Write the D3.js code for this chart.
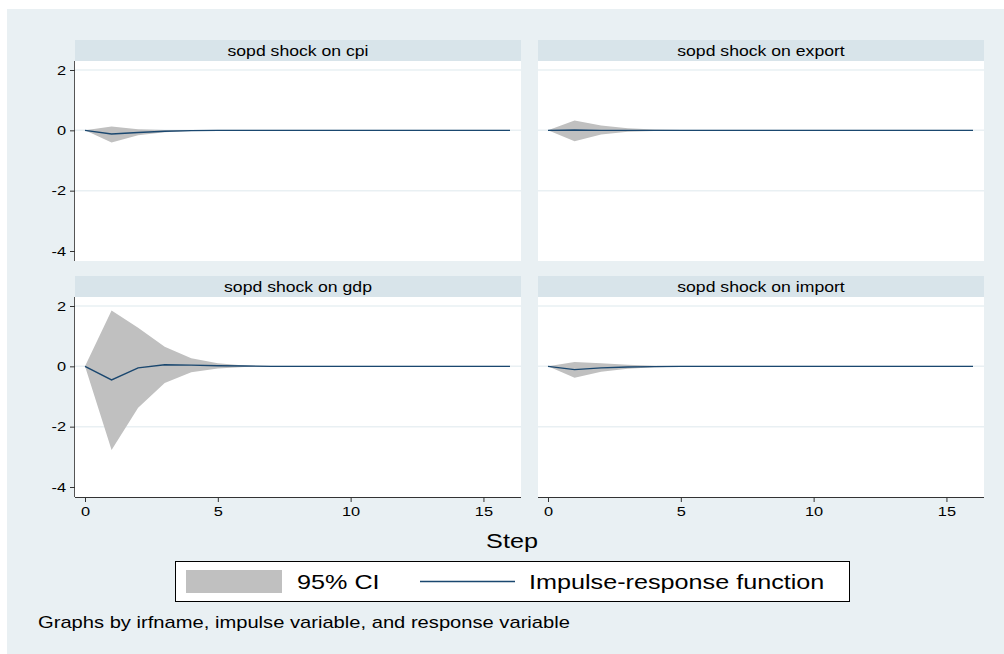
<!DOCTYPE html>
<html>
<head>
<meta charset="utf-8">
<script src="https://cdn.jsdelivr.net/npm/d3@7"></script>
<style>
  body { margin: 0; background: #fff; }
  svg { display: block; font-family: "Liberation Sans", Arial, sans-serif; }
</style>
</head>
<body>
<div id="chart"></div>
<script>
// steps 0..16
const steps = d3.range(0, 17);

const panelTitles = ["sopd shock on cpi", "sopd shock on export", "sopd shock on gdp", "sopd shock on import"];

const cpiIrf   = [0, -0.12, -0.07, -0.03, -0.01, 0, 0, 0, 0, 0, 0, 0, 0, 0, 0, 0, 0];
const cpiUpper = [0, 0.13, 0.04, 0.01, 0.005, 0, 0, 0, 0, 0, 0, 0, 0, 0, 0, 0, 0];
const cpiLower = [0, -0.40, -0.16, -0.06, -0.02, -0.01, 0, 0, 0, 0, 0, 0, 0, 0, 0, 0, 0];

const exportIrf   = [0, 0.01, 0, 0, 0, 0, 0, 0, 0, 0, 0, 0, 0, 0, 0, 0, 0];
const exportUpper = [0, 0.33, 0.16, 0.07, 0.03, 0.01, 0, 0, 0, 0, 0, 0, 0, 0, 0, 0, 0];
const exportLower = [0, -0.36, -0.14, -0.05, -0.02, -0.005, 0, 0, 0, 0, 0, 0, 0, 0, 0, 0, 0];

const gdpIrf   = [0, -0.45, -0.05, 0.05, 0.04, 0.02, 0.01, 0, 0, 0, 0, 0, 0, 0, 0, 0, 0];
const gdpUpper = [0, 1.85, 1.28, 0.65, 0.27, 0.10, 0.03, 0.01, 0, 0, 0, 0, 0, 0, 0, 0, 0];
const gdpLower = [0, -2.77, -1.37, -0.55, -0.20, -0.07, -0.02, -0.01, 0, 0, 0, 0, 0, 0, 0, 0, 0];

const importIrf   = [0, -0.11, -0.05, -0.02, -0.01, 0, 0, 0, 0, 0, 0, 0, 0, 0, 0, 0, 0];
const importUpper = [0, 0.14, 0.10, 0.05, 0.02, 0.01, 0, 0, 0, 0, 0, 0, 0, 0, 0, 0, 0];
const importLower = [0, -0.38, -0.18, -0.08, -0.03, -0.01, 0, 0, 0, 0, 0, 0, 0, 0, 0, 0, 0];

const yTicks = [2, 0, -2, -4];
const xTicks = [0, 5, 10, 15];

const panels = [
  { title: panelTitles[0], irf: cpiIrf, upper: cpiUpper, lower: cpiLower, col: 0, row: 0 },
  { title: panelTitles[1], irf: exportIrf, upper: exportUpper, lower: exportLower, col: 1, row: 0 },
  { title: panelTitles[2], irf: gdpIrf, upper: gdpUpper, lower: gdpLower, col: 0, row: 1 },
  { title: panelTitles[3], irf: importIrf, upper: importUpper, lower: importLower, col: 1, row: 1 },
];

const width = 1004;
const height = 654;
const colX = [75, 538];
const rowY = [40, 276];
const panelW = 446;
const stripH = 21;
const plotH = 200;
const stretch = 1.26; // the reference text is drawn a bit wide

const bgColor = "#e9f0f3";
const stripColor = "#d8e4ea";
const ciColor = "#c0c0c0";
const lineColor = "#1a476f";

const svg = d3.select("#chart").append("svg").attr("width", width).attr("height", height);

function wideText(parent, x, y, size, anchor, str) {
  return parent.append("text")
    .attr("transform", `translate(${x},${y}) scale(${stretch},1)`)
    .attr("text-anchor", anchor)
    .attr("font-size", size)
    .attr("fill", "#000")
    .text(str);
}

svg.append("rect").attr("x", 7).attr("y", 9).attr("width", width - 7).attr("height", height - 9)
  .attr("fill", bgColor);

panels.forEach((p) => {
  const x0 = colX[p.col];
  const top = rowY[p.row];
  const plotTop = top + stripH;
  const plotBottom = plotTop + plotH;

  const x = d3.scaleLinear().domain([0, 16]).range([x0 + 10, x0 + panelW - 11]);
  const y = d3.scaleLinear().domain([-4, 2]).range([plotBottom - 10, plotTop + 9]);

  const g = svg.append("g");

  g.append("rect").attr("x", x0).attr("y", top).attr("width", panelW).attr("height", stripH)
    .attr("fill", stripColor);
  wideText(g, x0 + panelW / 2, top + 15.5, 14, "middle", p.title);

  g.append("rect").attr("x", x0).attr("y", plotTop).attr("width", panelW).attr("height", plotH)
    .attr("fill", "#fff");

  g.selectAll(".grid").data(yTicks.filter((t) => t !== -4)).join("line")
    .attr("x1", x0).attr("x2", x0 + panelW)
    .attr("y1", (d) => y(d)).attr("y2", (d) => y(d))
    .attr("stroke", bgColor).attr("stroke-width", 1.5);

  const area = d3.area()
    .x((d, i) => x(steps[i]))
    .y0((d, i) => y(p.lower[i]))
    .y1((d, i) => y(p.upper[i]));
  g.append("path").datum(steps).attr("d", area).attr("fill", ciColor);

  const line = d3.line().x((d, i) => x(steps[i])).y((d) => y(d));
  g.append("path").datum(p.irf).attr("d", line).attr("fill", "none")
    .attr("stroke", lineColor).attr("stroke-width", 1.4);

  if (p.col === 0) {
    const ax = g.append("g").attr("transform", `translate(${x0},0)`)
      .call(d3.axisLeft(y).tickValues(yTicks).tickSize(5).tickPadding(3).tickFormat(d3.format("d")));
    ax.select(".domain").attr("stroke", "#555").attr("d", `M-0.5,${plotTop}V${plotBottom}`);
    ax.selectAll(".tick line").attr("stroke", "#333");
    ax.selectAll(".tick text").attr("font-size", 13).attr("fill", "#000").attr("font-family", null)
      .attr("x", -9 / stretch).attr("transform", `scale(${stretch},1)`)
      .text((d) => String(d));
  }
  if (p.row === 1) {
    const ax = g.append("g").attr("transform", `translate(0,${plotBottom})`)
      .call(d3.axisBottom(x).tickValues(xTicks).tickSize(5).tickPadding(5).tickFormat(d3.format("d")));
    ax.select(".domain").attr("stroke", "#333").attr("d", `M${x0},0.5H${x0 + panelW}`);
    ax.selectAll(".tick line").attr("stroke", "#333");
    ax.selectAll(".tick text").attr("font-size", 13).attr("fill", "#000").attr("font-family", null)
      .attr("transform", `scale(${stretch},1)`);
  }
});

wideText(svg, 512, 548, 20, "middle", "Step");

// legend
const legend = svg.append("g");
legend.append("rect").attr("x", 175.5).attr("y", 561.5).attr("width", 674).attr("height", 40)
  .attr("fill", "#fff").attr("stroke", "#000").attr("stroke-width", 1);
legend.append("rect").attr("x", 186).attr("y", 570).attr("width", 96).attr("height", 23)
  .attr("fill", ciColor);
wideText(legend, 297, 589, 20, "start", "95% CI");
legend.append("line").attr("x1", 420).attr("x2", 515).attr("y1", 581.5).attr("y2", 581.5)
  .attr("stroke", lineColor).attr("stroke-width", 1.4);
wideText(legend, 529, 589, 20, "start", "Impulse-response function");

wideText(svg, 38, 628, 16, "start", "Graphs by irfname, impulse variable, and response variable");
</script>
</body>
</html>
